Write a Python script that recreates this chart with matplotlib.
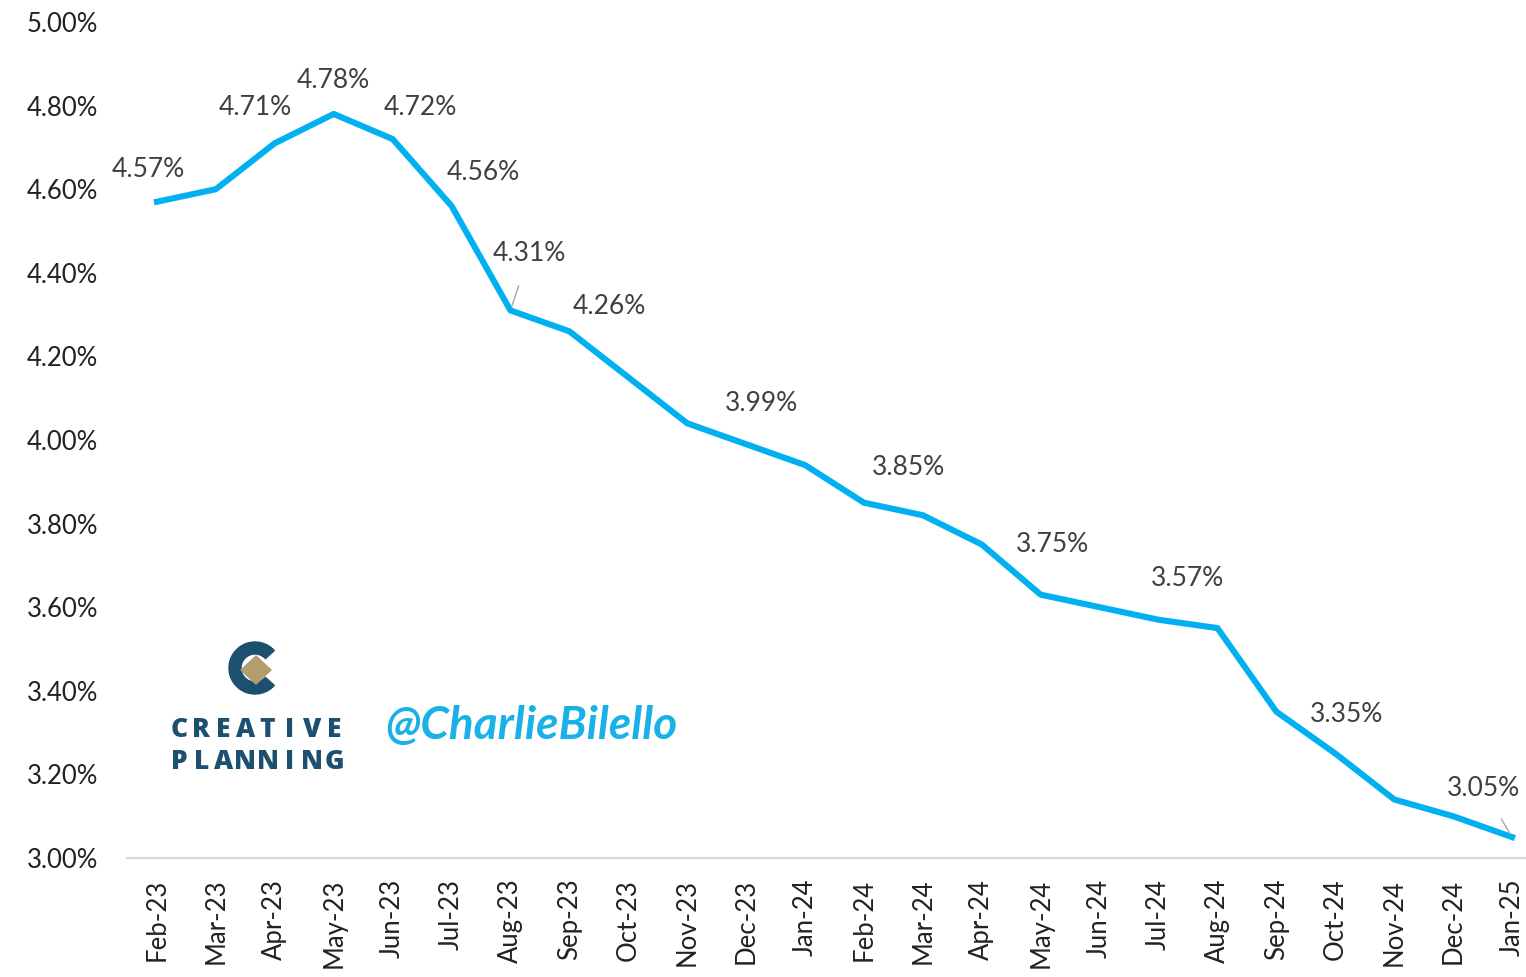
import matplotlib
matplotlib.use("Agg")
import matplotlib.pyplot as plt
from matplotlib.patches import Wedge, Polygon
from matplotlib.ticker import FuncFormatter

# ---- data ----
months = ["Feb-23", "Mar-23", "Apr-23", "May-23", "Jun-23", "Jul-23", "Aug-23",
          "Sep-23", "Oct-23", "Nov-23", "Dec-23", "Jan-24", "Feb-24", "Mar-24",
          "Apr-24", "May-24", "Jun-24", "Jul-24", "Aug-24", "Sep-24", "Oct-24",
          "Nov-24", "Dec-24", "Jan-25"]
rate = [4.57, 4.60, 4.71, 4.78, 4.72, 4.56, 4.31, 4.26, 4.15, 4.04, 3.99, 3.94,
        3.85, 3.82, 3.75, 3.63, 3.60, 3.57, 3.55, 3.35, 3.25, 3.14, 3.10, 3.05]
# points that carry a value label
labelled = ["Feb-23", "Apr-23", "May-23", "Jun-23", "Jul-23", "Aug-23", "Sep-23",
            "Dec-23", "Feb-24", "Apr-24", "Jul-24", "Sep-24", "Jan-25"]

# label offsets in pixels (dx, dy up) and whether a leader line is drawn
offsets = {
    "Feb-23": (-9, 32, False), "Apr-23": (-19, 36, False), "May-23": (0, 33, False),
    "Jun-23": (28, 32, False), "Jul-23": (32, 33, False), "Aug-23": (19, 57, True),
    "Sep-23": (40, 25, False), "Dec-23": (15, 41, False), "Feb-24": (45, 35, False),
    "Apr-24": (71, 0, False), "Jul-24": (29, 41, False), "Sep-24": (70, -3, False),
    "Jan-25": (-29, 49, True),
}

FONT = "Lato"
TXT = "#404040"
BLUE = "#00b0f0"

W, H = 1526, 977
fig = plt.figure(figsize=(W / 100, H / 100), dpi=100)
ax = fig.add_axes([127.5 / W, 119 / H, (1541.5 - 127.5) / W, (858 - 22) / H])

x = list(range(len(months)))
ax.plot(x, rate, color=BLUE, lw=4.4, solid_joinstyle="round", zorder=3)

ax.set_xlim(-0.5, len(months) - 0.5)
ax.set_ylim(3.0, 5.0)
ax.set_yticks([3.0 + 0.2 * i for i in range(11)])
ax.yaxis.set_major_formatter(FuncFormatter(lambda v, p: f"{v:.2f}%"))
ax.set_xticks(x)
ax.set_xticklabels(months, rotation=90, va="top", ha="center")

for lab in ax.get_yticklabels() + ax.get_xticklabels():
    lab.set_fontfamily(FONT)
    lab.set_fontsize(18.5)
    lab.set_color("#222222")
ax.tick_params(axis="y", length=0, pad=21)
ax.tick_params(axis="x", length=0, pad=15)

for s in ["left", "right", "top"]:
    ax.spines[s].set_visible(False)
ax.spines["bottom"].set_color("#d9d9d9")
ax.spines["bottom"].set_linewidth(1.5)

for m in labelled:
    i = months.index(m)
    dx, dy, lead = offsets[m]
    kw = {}
    if lead:
        kw["arrowprops"] = dict(arrowstyle="-", color="#a6a6a6", lw=1.0,
                                shrinkA=13, shrinkB=3)
    ax.annotate(f"{rate[i]:.2f}%", (i, rate[i]), xytext=(dx, dy),
                textcoords="offset pixels", ha="center", va="center",
                fontsize=19, fontfamily=FONT, color=TXT, zorder=4, **kw)

# ---- logo + handle, in pixel coordinates of the figure ----
ov = fig.add_axes([0, 0, 1, 1], facecolor="none")
ov.set_xlim(0, W)
ov.set_ylim(H, 0)
ov.axis("off")

navy = "#1d4f6e"
ov.add_patch(Wedge((255, 668), 26, 42, 318, width=12, color=navy))
ov.add_patch(Polygon([(241, 670), (256, 656), (271, 670), (256, 684)],
                     closed=True, color="#b39c6e"))
step = (334 - 179) / 7
for row, word in [(730, "CREATIVE"), (762, "PLANNING")]:
    for k, ch in enumerate(word):
        ov.text(179 + k * step, row, ch, ha="center", va="center",
                fontsize=19, fontweight="heavy", fontfamily="Open Sans",
                color=navy)

ov.text(531, 726, "@CharlieBilello", ha="center", va="center",
        fontsize=33, fontstyle="italic", fontweight="bold", fontfamily=FONT,
        color="#1ab0e8")

fig.savefig("out.png", dpi=100)
